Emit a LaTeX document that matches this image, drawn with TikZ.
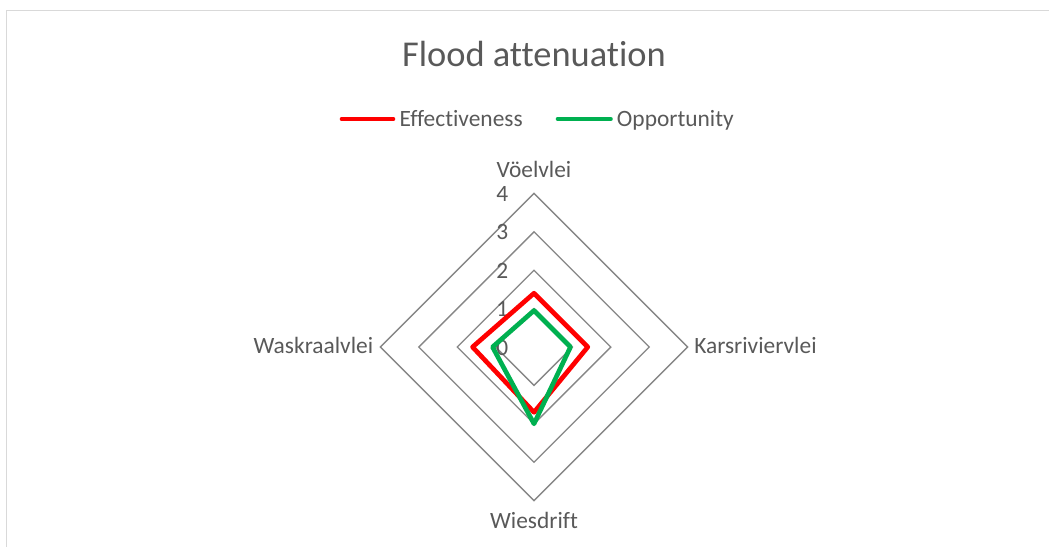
\documentclass[tikz,border=0pt]{standalone}
\usepackage{fontspec}
\setmainfont{Carlito}[Ligatures={NoCommon}]
\definecolor{txtgray}{HTML}{595959}
\definecolor{gridgray}{HTML}{868686}
\definecolor{framegray}{HTML}{D9D9D9}
\definecolor{effred}{HTML}{FF0000}
\definecolor{oppgreen}{HTML}{00B050}

\begin{document}
\begin{tikzpicture}[x=0.75pt,y=-0.75pt,
    lbl/.style={text=txtgray,inner sep=0pt,font=\fontsize{17.55}{20}\selectfont},
    series/.style={line width=3.5pt,line join=round}]
    \useasboundingbox (0,0) rectangle (1049,546);
    \draw[framegray,line width=1.1pt] (6.5,560) -- (6.5,10.5) -- (1060,10.5);
    \node[text=txtgray,inner sep=0pt,anchor=base,font=\fontsize{27.3}{32}\selectfont] (title) at (534,66.7) {Flood attenuation};
    % legend
    \draw[effred,line width=3.5pt,line cap=round] (342,119) -- (393,119);
    \node[lbl,anchor=base west] (effect) at (399.3,126) {Effectiveness};
    \draw[oppgreen,line width=3.5pt,line cap=round] (558,119) -- (610.5,119);
    \node[lbl,anchor=base west] (oppor) at (616.7,126) {Opportunity};
    % category labels
    \node[lbl,anchor=base] (voel) at (534,177.3) {Vöelvlei};
    \node[lbl,anchor=base west] (kars) at (694,353) {Karsriviervlei};
    \node[lbl,anchor=base] (wies) at (534,528.3) {Wiesdrift};
    \node[lbl,anchor=base east] (wask) at (373.4,353) {Waskraalvlei};
    \coordinate (ctr) at (534,347);
    \begin{scope}[shift={(ctr)},x=28.8pt,y=28.8pt]
        \foreach \r in {1,...,4}
            \draw[gridgray,line width=1pt] (0,\r) -- (\r,0) -- (0,-\r) -- (-\r,0) -- cycle;
        \foreach \k in {0,...,4}
            \node[lbl,anchor=base east] (n\k) at ([xshift=-19.2pt,yshift=-6pt]0,\k) {\k};
        \draw[series,effred] (0,1.4) -- (1.4,0) -- (0,-1.7) -- (-1.6,0) -- cycle;
        \draw[series,oppgreen] (0,0.95) -- (0.95,0) -- (0,-2) -- (-1.08,0) -- cycle;
    \end{scope}
\end{tikzpicture}
\end{document}
